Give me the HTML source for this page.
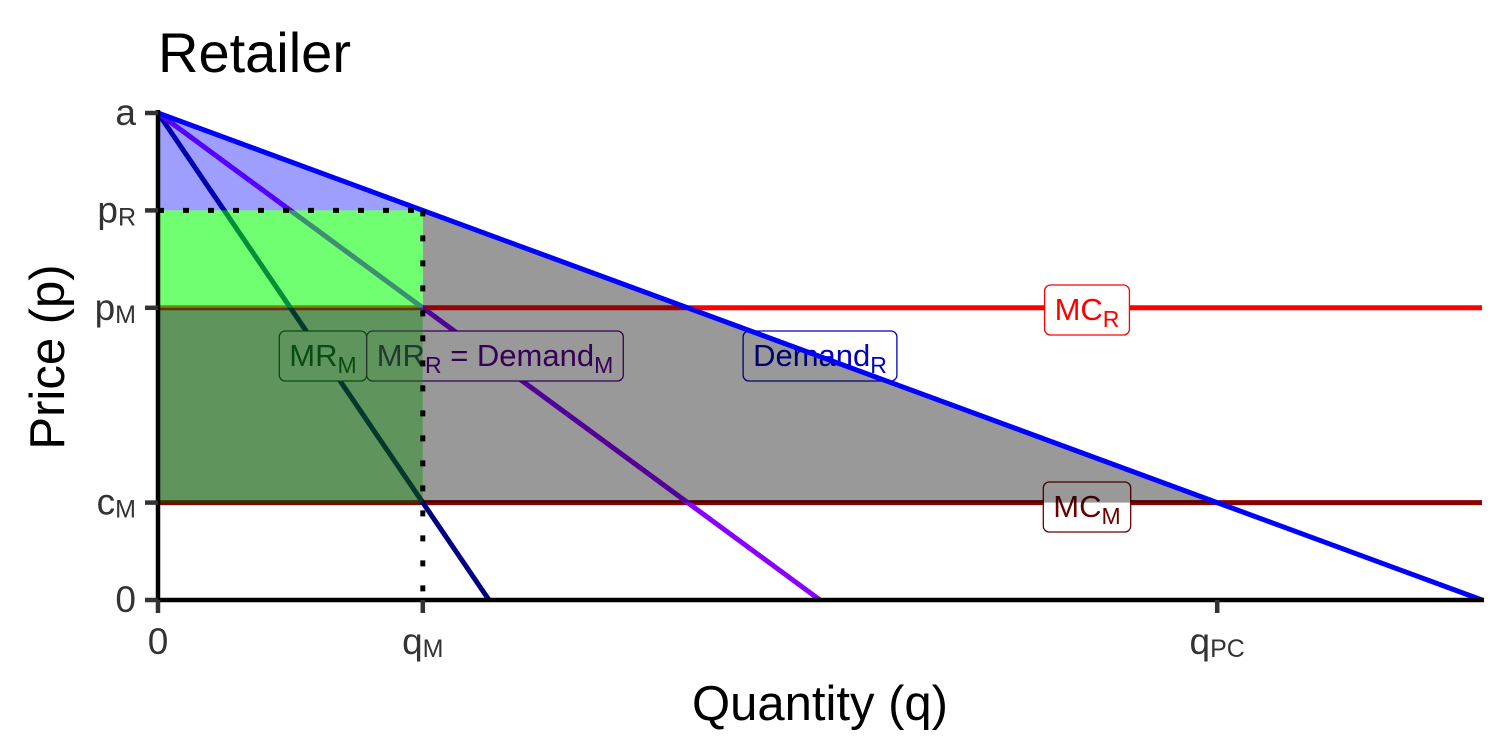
<!DOCTYPE html>
<html><head><meta charset="utf-8"><style>
html,body{margin:0;padding:0;background:#fff}
svg{display:block}
text{font-family:"Liberation Sans",sans-serif}
</style></head><body>
<svg id="chart" width="1512" height="756"></svg>
<script>
const yTickVals=[0,1,3,4,5];
const yTickLabels=[["0",""],["c","M"],["p","M"],["p","R"],["a",""]];
const xTickVals=[0,1,4];
const xTickLabels=[["0",""],["q","M"],["q","PC"]];
const aVal=5, cM=1, pM=3, pR=4, qM=1, qPC=4;
const demandR=[[0,5],[5,0]];
const mrR=[[0,5],[2.5,0]];
const mrM=[[0,5],[1.25,0]];
const X0=158,X1=1482,Y0=600,Y1=113;
const sx=q=>X0+q*(X1-X0)/5;
const sy=p=>Y0-p*(Y0-Y1)/5;
const svg=document.getElementById('chart');
const NS='http://www.w3.org/2000/svg';
function mk(tag,attrs,parent){const e=document.createElementNS(NS,tag);for(const k in attrs)e.setAttribute(k,attrs[k]);(parent||svg).appendChild(e);return e;}
function line(pts,color,w,name,dash){const e=mk('line',{x1:sx(pts[0][0]),y1:sy(pts[0][1]),x2:sx(pts[1][0]),y2:sy(pts[1][1]),stroke:color,'stroke-width':w});if(dash)e.setAttribute('stroke-dasharray',dash);


return e;}
function poly(pts,fill,name){const e=mk('polygon',{points:pts.map(p=>sx(p[0])+','+sy(p[1])).join(' '),fill:fill});


return e;}
function label(cx,cy,html,color,name){const g=mk('g',{});


const t=mk('text',{x:cx,y:cy+10,'font-size':31,fill:color,'text-anchor':'middle'},g);
t.innerHTML=html;
const bb=t.getBBox();const r=mk('rect',{x:bb.x-10,y:cy-25,width:bb.width+20,height:50,rx:6,fill:'#fff',stroke:color,'stroke-width':1.3},g);g.insertBefore(r,t);return g;}
const sub=s=>'<tspan font-size="23" dy="7">'+s+'</tspan>';
line([[0,pM],[5,pM]],'#ff0000',5,'mc-r-line');
line([[0,cM],[5,cM]],'#8b0000',5,'mc-m-line');
line(mrM,'#000080',5,'mr-m-line');
line(mrR,'#8a00ff',5,'mr-r-line');
label(323,356,'MR'+sub('M'),'#0a3a3a','mr-m-label');
label(495,356,'MR'+sub('R')+'<tspan dy="-7"> = Demand</tspan>'+sub('M'),'#5a0090','mr-r-label');
label(820,356,'Demand'+sub('R'),'#0000c0','demand-r-label');
label(1087,310,'MC'+sub('R'),'#ff0000','mc-r-label');
label(1087,507,'MC'+sub('M'),'#6b0000','mc-m-label');
poly([[0,aVal],[qM,pR],[0,pR]],'rgba(0,0,255,0.38)','consumer-surplus-area');
poly([[0,pM],[qM,pM],[qM,cM],[0,cM]],'rgba(0,0,0,0.4)','manufacturer-grey-area');
poly([[qM,pR],[qPC,cM],[qM,cM]],'rgba(0,0,0,0.4)','deadweight-loss-area');
poly([[0,pR],[qM,pR],[qM,pM],[0,pM]],'rgba(0,255,0,0.56)','retailer-profit-area');
poly([[0,pM],[qM,pM],[qM,cM],[0,cM]],'rgba(8,140,0,0.4)','manufacturer-profit-area');
line(demandR,'#0000ff',5,'demand-r-line');
line([[0,pR],[qM,pR]],'#000',5,'p-r-dotted-line','6,19');
line([[qM,pR],[qM,0]],'#000',5,'q-m-dotted-line','6,19');
const ax=mk('line',{x1:X0,y1:Y1-3,x2:X0,y2:Y0+2,stroke:'#000','stroke-width':4.5});

const axx=mk('line',{x1:X0-2,y1:Y0,x2:X1+2,y2:Y0,stroke:'#000','stroke-width':4.5});

yTickVals.forEach((v,i)=>{const y=sy(v);
const tk=mk('line',{x1:X0-13,y1:y,x2:X0,y2:y,stroke:'#333','stroke-width':4.5});

const t=mk('text',{x:X0-22,y:y+12,'font-size':37,fill:'#333','text-anchor':'end'});

t.textContent=yTickLabels[i][0];if(yTickLabels[i][1]){const s=mk('tspan',{'font-size':25,dy:3},t);s.textContent=yTickLabels[i][1];}});
xTickVals.forEach((v,i)=>{const x=sx(v);
const tk=mk('line',{x1:x,y1:Y0,x2:x,y2:Y0+13,stroke:'#333','stroke-width':4.5});

const t=mk('text',{x:x,y:Y0+54,'font-size':37,fill:'#333','text-anchor':'middle'});

t.textContent=xTickLabels[i][0];if(xTickLabels[i][1]){const s=mk('tspan',{'font-size':25,dy:3},t);s.textContent=xTickLabels[i][1];}});
const title=mk('text',{x:158,y:72,'font-size':56,fill:'#000'});title.textContent='Retailer';

const xt=mk('text',{x:820,y:720,'font-size':49,fill:'#000','text-anchor':'middle'});xt.textContent='Quantity (q)';

const yt=mk('text',{x:0,y:0,'font-size':49,fill:'#000','text-anchor':'middle',transform:'translate(64,357) rotate(-90)'});yt.textContent='Price (p)';

</script>
</body></html>
